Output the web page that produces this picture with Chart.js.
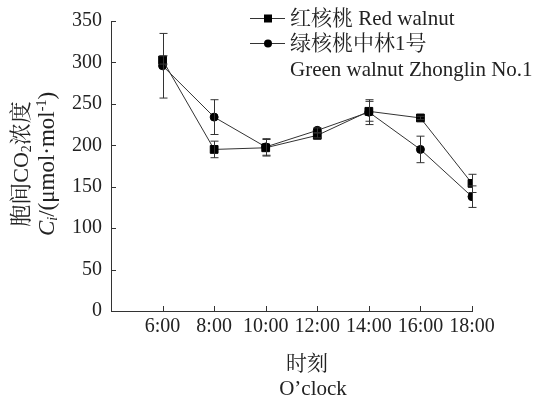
<!DOCTYPE html>
<html lang="zh">
<head>
  <meta charset="UTF-8">
  <title>胞间CO2浓度</title>
  <script src="https://cdn.jsdelivr.net/npm/chart.js"></script>
  <style>
    body { margin: 0; background: #fff; }
    #wrap { width: 546px; height: 400px; }
  </style>
</head>
<body>
  <div id="wrap"><canvas id="ciChart" width="546" height="400"></canvas></div>
  <script>
    // data
    const hours = [6, 8, 10, 12, 14, 16, 18];
    const redWalnut = [303, 195, 197, 212, 241, 233, 154];
    const redErr = [5, 10, 10, 3, 12, 2, 11];
    const greenWalnut = [296, 234, 198, 218, 240, 195, 138];
    const greenErr = [39, 21, 10, 3, 15, 16, 13];
    const yTicks = [0, 50, 100, 150, 200, 250, 300, 350];

    const FONT = "'Liberation Serif', 'Noto Serif CJK SC', 'Noto Sans CJK SC', serif";
    const INK = '#222';

    const toPts = vals => vals.map((v, i) => ({ x: hours[i], y: v }));

    // inward ticks, error bars, legend and axis titles
    const extras = {
      id: 'extras',
      afterDatasetsDraw(chart) {
        const { ctx, scales: { x, y } } = chart;
        ctx.save();
        ctx.strokeStyle = '#333';
        ctx.lineWidth = 1;

        // error bars
        [[redWalnut, redErr], [greenWalnut, greenErr]].forEach(([vals, errs]) => {
          vals.forEach((v, i) => {
            const px = Math.round(x.getPixelForValue(hours[i])) + 0.5;
            const top = y.getPixelForValue(v + errs[i]);
            const bot = y.getPixelForValue(v - errs[i]);
            ctx.beginPath();
            ctx.moveTo(px, top); ctx.lineTo(px, bot);
            ctx.moveTo(px - 4, top); ctx.lineTo(px + 4, top);
            ctx.moveTo(px - 4, bot); ctx.lineTo(px + 4, bot);
            ctx.stroke();
          });
        });

        // ticks pointing inward
        const bottom = chart.chartArea.bottom, left = chart.chartArea.left;
        ctx.beginPath();
        hours.forEach(h => {
          const px = Math.round(x.getPixelForValue(h)) + 0.5;
          ctx.moveTo(px, bottom); ctx.lineTo(px, bottom - 5);
        });
        yTicks.forEach(t => {
          const py = Math.round(y.getPixelForValue(t)) + 0.5;
          ctx.moveTo(left, py); ctx.lineTo(left + 5, py);
        });
        ctx.stroke();

        // legend
        ctx.fillStyle = INK;
        ctx.font = '21px ' + FONT;
        ctx.textBaseline = 'middle';
        const rows = [
          { y: 18, marker: 'rect', text: '红核桃 Red walnut' },
          { y: 43, marker: 'circle', text: '绿核桃中林1号' }
        ];
        rows.forEach(r => {
          ctx.strokeStyle = '#333';
          ctx.beginPath();
          ctx.moveTo(250, r.y + 0.5); ctx.lineTo(285, r.y + 0.5);
          ctx.stroke();
          ctx.fillStyle = '#000';
          if (r.marker === 'rect') {
            ctx.fillRect(264, r.y - 3.5, 8, 8);
          } else {
            ctx.beginPath();
            ctx.arc(268, r.y + 0.5, 4, 0, Math.PI * 2);
            ctx.fill();
          }
          ctx.fillStyle = INK;
          ctx.fillText(r.text, 290, r.y + 1);
        });
        ctx.fillText('Green walnut Zhonglin No.1', 290, 70);

        // x title
        ctx.textAlign = 'center';
        ctx.fillText('时刻', 307, 364);
        ctx.fillText('O\u2019clock', 313, 389);

        // y title, rotated
        const seg = (parts, cx, cy) => {
          ctx.save();
          ctx.translate(cx, cy);
          ctx.rotate(-Math.PI / 2);
          ctx.textAlign = 'left';
          let w = 0;
          parts.forEach(p => {
            ctx.font = (p.italic ? 'italic ' : '') + (p.size || 22) + 'px ' + FONT;
            w += ctx.measureText(p.t).width;
          });
          let pos = -w / 2;
          parts.forEach(p => {
            ctx.font = (p.italic ? 'italic ' : '') + (p.size || 22) + 'px ' + FONT;
            ctx.fillText(p.t, pos, p.dy || 0);
            pos += ctx.measureText(p.t).width;
          });
          ctx.restore();
        };
        seg([{ t: '胞间CO' }, { t: '2', size: 14, dy: 5 }, { t: '浓度' }], 22, 164);
        seg([{ t: 'C', italic: true, size: 23 }, { t: 'i', size: 14, dy: 5, italic: true },
             { t: '/(μmol·mol', size: 23 }, { t: '-1', size: 14, dy: -6 }, { t: ')', size: 23 }], 48, 164);

        ctx.restore();
      }
    };

    new Chart(document.getElementById('ciChart'), {
      type: 'line',
      data: {
        datasets: [
          {
            label: '红核桃 Red walnut',
            data: toPts(redWalnut),
            borderColor: '#333',
            borderWidth: 1,
            pointStyle: 'rect',
            pointRadius: 5.5,
            pointBackgroundColor: '#000',
            pointBorderColor: '#000',
            tension: 0
          },
          {
            label: '绿核桃中林1号 Green walnut Zhonglin No.1',
            data: toPts(greenWalnut),
            borderColor: '#333',
            borderWidth: 1,
            pointStyle: 'circle',
            pointRadius: 4,
            pointBackgroundColor: '#000',
            pointBorderColor: '#000',
            tension: 0
          }
        ]
      },
      options: {
        responsive: false,
        animation: false,
        events: [],
        layout: { padding: { left: 0, top: 17, right: 74, bottom: 0 } },
        plugins: {
          legend: { display: false },
          tooltip: { enabled: false }
        },
        scales: {
          x: {
            type: 'linear',
            min: 4,
            max: 18,
            afterFit: s => { s.height = 89; },
            grid: { drawOnChartArea: false, drawTicks: false },
            border: { color: '#333', width: 1 },
            ticks: {
              stepSize: 2,
              autoSkip: false,
              maxRotation: 0,
              padding: 4,
              color: INK,
              font: { family: FONT, size: 20 },
              callback: v => (v === 4 ? '' : v + ':00')
            }
          },
          y: {
            min: 0,
            max: 350,
            afterFit: s => { s.width = 111; },
            grid: { drawOnChartArea: false, drawTicks: false },
            border: { color: '#333', width: 1 },
            ticks: {
              stepSize: 50,
              padding: 9,
              color: INK,
              font: { family: FONT, size: 20 }
            }
          }
        }
      },
      plugins: [extras]
    });
  </script>
</body>
</html>
